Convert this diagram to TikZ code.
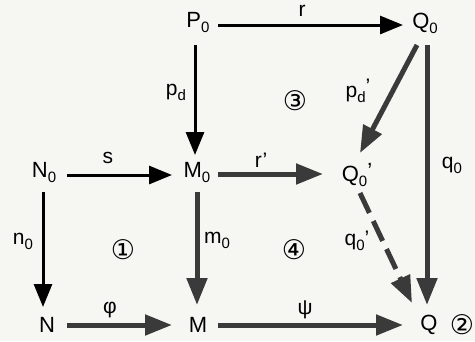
\documentclass[tikz,border=0pt]{standalone}
\usepackage{fontspec}
\setmainfont{Liberation Sans}
\newfontfamily\dejavu{DejaVu Sans}
\usetikzlibrary{arrows.meta}
\definecolor{bgc}{RGB}{246,246,243}
\definecolor{gfill}{RGB}{58,58,58}
\newcommand{\lowsub}[1]{\raisebox{-5pt}{\fontsize{15}{15}\selectfont #1}}
\tikzset{
  obj/.style={inner sep=0pt, font=\fontsize{22}{22}\selectfont},
  lbl/.style={inner sep=0pt, font=\fontsize{21}{21}\selectfont},
  circ/.style={inner sep=0pt, font=\dejavu\fontsize{27}{27}\selectfont},
  barrow/.style={draw=black, line width=3pt, -{Triangle[length=23pt,width=18pt]}},
  garrow/.style={draw=gfill, line width=5pt, -{Triangle[length=27pt,width=20pt]}},
}
\begin{document}
\begin{tikzpicture}[x=1pt,y=-1pt]
\fill[bgc] (0,0) rectangle (475,341);
\useasboundingbox (0,0) rectangle (475,341);
% objects
\node[obj] (P0) at (198,23) {P\lowsub{0}};
\node[obj] (Q0) at (425,23) {Q\lowsub{0}};
\node[obj] (N0) at (44,173) {N\lowsub{0}};
\node[obj] (M0) at (197,173) {M\lowsub{0}};
\node[obj] (Q0p) at (357,175) {Q\lowsub{0}\raisebox{3pt}{'}};
\node[obj] (N) at (47,325) {N};
\node[obj] (M) at (198,325) {M};
\node[obj] (Q) at (429,325) {Q};
% black arrows
\draw[barrow] ([shift={(20,2)}]P0.center) -- ([shift={(-22,2)}]Q0.center);
\draw[barrow] ([shift={(-3,22)}]P0.center) -- ([shift={(-2,-18)}]M0.center);
\draw[barrow] ([shift={(23,2)}]N0.center) -- ([shift={(-25,2)}]M0.center);
\draw[barrow] ([shift={(-1,19)}]N0.center) -- ([shift={(-4,-18)}]N.center);
% gray arrows
\draw[garrow] ([shift={(21,1)}]M0.center) -- ([shift={(-34,-1)}]Q0p.center);
\draw[garrow] ([shift={(0,19)}]M0.center) -- ([shift={(-1,-20)}]M.center);
\draw[garrow] ([shift={(20,0)}]N.center) -- ([shift={(-26,0)}]M.center);
\draw[garrow] ([shift={(20,0)}]M.center) -- ([shift={(-26,0)}]Q.center);
\draw[garrow] ([shift={(-8,22)}]Q0.center) -- ([shift={(3,-22)}]Q0p.center);
\draw[garrow] ([shift={(2,22)}]Q0.center) -- ([shift={(-2,-20)}]Q.center);
\draw[garrow, dash pattern=on 22pt off 9pt] ([shift={(3,18)}]Q0p.center) -- ([shift={(-17,-22)}]Q.center);
% labels
\node[lbl] (lr) at (302,11) {r};
\node[lbl] (lpd) at (176,92) {p\lowsub{d}};
\node[lbl] (lpdp) at (358,91) {p\lowsub{d}\raisebox{4pt}{'}};
\node[lbl] (ls) at (108,158) {s};
\node[lbl] (lrp) at (261,160) {r'};
\node[lbl] (lq0) at (452,165) {q\lowsub{0}};
\node[lbl] (ln0) at (23,241) {n\lowsub{0}};
\node[lbl] (lm0) at (217,240) {m\lowsub{0}};
\node[lbl] (lq0p) at (357,241) {q\lowsub{0}'};
\node[lbl] (lphi) at (110,310) {φ};
\node[lbl] (lpsi) at (305,310) {ψ};
% region numbers
\node[circ] (c3) at (295,101) {③};
\node[circ] (c1) at (123,250) {①};
\node[circ] (c4) at (294,250) {④};
\node[circ] (c2) at (462,325) {②};
\end{tikzpicture}
\end{document}
